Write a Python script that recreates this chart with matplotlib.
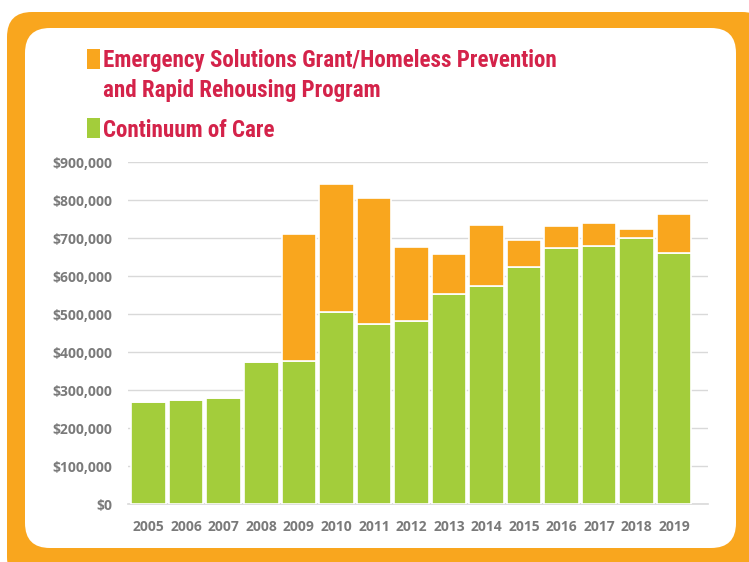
import matplotlib
matplotlib.use("Agg")
import matplotlib.pyplot as plt
from matplotlib.patches import FancyBboxPatch, Rectangle
from matplotlib.ticker import FuncFormatter

years = ["2005", "2006", "2007", "2008", "2009", "2010", "2011", "2012",
         "2013", "2014", "2015", "2016", "2017", "2018", "2019"]
continuum_of_care = [270000, 275000, 279000, 375000, 376000, 507000, 474000, 482000,
                     554000, 574000, 625000, 674000, 680000, 700000, 662000]
esg_hprp = [0, 0, 0, 0, 334500, 335000, 333000, 196000,
            105500, 161000, 70500, 58000, 59000, 23700, 101000]
legend_lines = ["Emergency Solutions Grant/Homeless Prevention",
                "and Rapid Rehousing Program",
                "Continuum of Care"]
yticks = [0, 100000, 200000, 300000, 400000, 500000, 600000, 700000, 800000, 900000]

ORANGE = "#F9A61E"
GREEN = "#A3CD3B"
CRIMSON = "#D4234A"
GRAY = "#7A7A7A"

W, H = 749, 562
fig = plt.figure(figsize=(W / 100, H / 100), dpi=100)

# background frame in pixel coordinates
bg = fig.add_axes([0, 0, 1, 1], zorder=0)
bg.set_xlim(0, W)
bg.set_ylim(H, 0)
bg.axis("off")
bg.add_patch(FancyBboxPatch((7 + 25, 12 + 25), 760 - 50, 570 - 50,
                            boxstyle="round,pad=25", fc=ORANGE, ec="none"))
bg.add_patch(FancyBboxPatch((25 + 25, 28 + 25), 711 - 50, 520 - 50,
                            boxstyle="round,pad=25", fc="white", ec="none"))

# legend drawn manually
bg.add_patch(Rectangle((87, 49), 13, 20, fc=ORANGE, ec="none"))
bg.add_patch(Rectangle((87, 118), 13, 20, fc=GREEN, ec="none"))
lfam = ["Liberation Sans Narrow", "Roboto Condensed", "Open Sans Condensed", "DejaVu Sans"]
lfont = dict(family=lfam, weight="bold", stretch="condensed", color=CRIMSON)

# choose a font size so the first legend line is close to the reference width
probe = bg.text(0, 0, legend_lines[0], fontsize=17, **lfont)
renderer = fig.canvas.get_renderer()
wpx = probe.get_window_extent(renderer).width
probe.remove()
fs = min(18, 17 * 455 / wpx)

bg.text(103, 67, legend_lines[0], va="baseline", ha="left", fontsize=fs, **lfont)
bg.text(103, 97, legend_lines[1], va="baseline", ha="left", fontsize=fs, **lfont)
bg.text(103, 137, legend_lines[2], va="baseline", ha="left", fontsize=fs, **lfont)

# main chart
ax = fig.add_axes([128 / W, (H - 504.3) / H, (708 - 128) / W, (504.3 - 162.3) / H], zorder=1)
ax.patch.set_alpha(0)
x = list(range(len(years)))
ax.bar(x, continuum_of_care, width=0.92, color=GREEN, edgecolor="white", linewidth=1.2, zorder=3)
ax.bar(x, esg_hprp, bottom=continuum_of_care, width=0.92, color=ORANGE,
       edgecolor="white", linewidth=1.2, zorder=3)
ax.set_xlim(-0.55, 14.9)
ax.set_ylim(0, 900000)
ax.set_yticks(yticks)
ax.yaxis.set_major_formatter(FuncFormatter(lambda v, p: "${:,.0f}".format(v)))
ax.set_xticks(x)
ax.set_xticklabels(years)
ax.grid(axis="y", color="#D9D9D9", linewidth=1, zorder=0)
for s in ["top", "right", "left"]:
    ax.spines[s].set_visible(False)
ax.spines["bottom"].set_color("#D9D9D9")
ax.spines["bottom"].set_linewidth(1.2)
ax.tick_params(axis="both", length=0, colors=GRAY)
ax.tick_params(axis="y", pad=11)
ax.tick_params(axis="x", pad=11.5)
for lab in ax.get_xticklabels() + ax.get_yticklabels():
    lab.set_fontfamily(["Open Sans", "DejaVu Sans"])
    lab.set_fontweight("bold")
    lab.set_fontsize(10)
    lab.set_color(GRAY)

fig.savefig("out.png", dpi=100)
